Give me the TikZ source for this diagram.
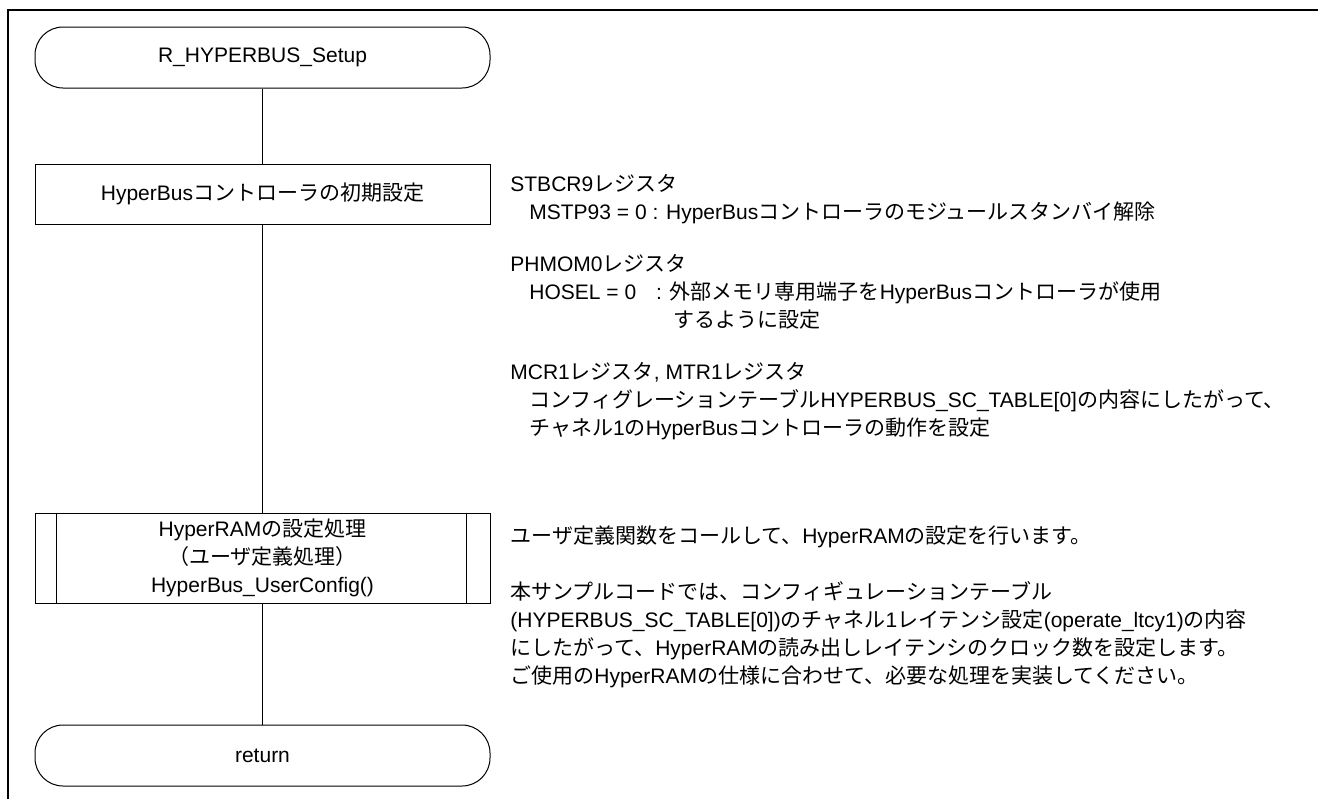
\documentclass[tikz,border=0pt]{standalone}
\usepackage{fontspec}
\setmainfont{Liberation Sans}
\newfontfamily\jpfont{Noto Sans CJK JP}
% switch to the Japanese font for kana, kanji and full-width forms
\XeTeXinterchartokenstate=1
\newXeTeXintercharclass\jpclass
\newcount\jpcode
\jpcode="3000 \loop \XeTeXcharclass\jpcode=\jpclass \ifnum\jpcode<"30FF \advance\jpcode by 1 \repeat
\jpcode="4E00 \loop \XeTeXcharclass\jpcode=\jpclass \ifnum\jpcode<"9FFF \advance\jpcode by 1 \repeat
\jpcode="FF00 \loop \XeTeXcharclass\jpcode=\jpclass \ifnum\jpcode<"FFEF \advance\jpcode by 1 \repeat
\XeTeXinterchartoks 0 \jpclass = {\jpfont}
\XeTeXinterchartoks 4095 \jpclass = {\jpfont}
\XeTeXinterchartoks \jpclass 0 = {\rmfamily}
\XeTeXinterchartoks \jpclass 4095 = {\rmfamily}
\usetikzlibrary{positioning}

\begin{document}
\begin{tikzpicture}[x=0.5pt, y=-0.5pt,
					termnode/.style={rectangle,
					rounded corners=14pt,
					draw=black,
					line width=0.5pt,
					minimum width=227.5pt,
					minimum height=30.5pt,
					inner sep=0pt},
					procnode/.style={rectangle,
					draw=black,
					line width=0.5pt,
					minimum width=227.5pt,
					minimum height=30pt,
					inner sep=0pt,
					align=center},
					subnode/.style={procnode,
					minimum height=45pt},
					notetext/.style={anchor=north west,
					inner sep=0pt,
					align=left},
					font=\fontsize{10.5pt}{14pt}\selectfont
					]

\useasboundingbox (0,0) rectangle (1318,799);

% frame
\draw[line width=1.2pt] (8,799) -- (8,10) -- (1318,10);

% flow
\node[termnode]  (Start) at (262.5,57.5) {R\_HYPERBUS\_Setup};
\node[procnode]  (Init) [below=37.5pt of Start] {HyperBusコントローラの初期設定};
\node[subnode]  (UserCfg) [below=144pt of Init] {HyperRAMの設定処理\\（ユーザ定義処理）\\HyperBus\_UserConfig()};
\node[termnode]  (Return) [below=60.5pt of UserCfg] {return};

% side bars of the subroutine box
\draw[line width=0.5pt] ([xshift=11pt]UserCfg.north west) -- ([xshift=11pt]UserCfg.south west);
\draw[line width=0.5pt] ([xshift=-12pt]UserCfg.north east) -- ([xshift=-12pt]UserCfg.south east);

% lines
\draw[line width=0.5pt] (Start) -- (Init);
\draw[line width=0.5pt] (Init) -- (UserCfg);
\draw[line width=0.5pt] (UserCfg) -- (Return);

% notes
\node[notetext]  (StbcrNote) at (510,171) {\strut STBCR9レジスタ\\\hspace*{9.5pt}MSTP93 = 0 : HyperBusコントローラのモジュールスタンバイ解除};
\node[notetext]  (PhmomNote) at (510,251) {\strut PHMOM0レジスタ\\\hspace*{9.5pt}HOSEL = 0\hspace{10pt}: 外部メモリ専用端子をHyperBusコントローラが使用\\\hspace*{81.5pt}するように設定};
\node[notetext]  (McrNote) at (510,359) {\strut MCR1レジスタ, MTR1レジスタ\\\hspace*{9.5pt}コンフィグレーションテーブルHYPERBUS\_SC\_TABLE[0]の内容にしたがって、\\\hspace*{9.5pt}チャネル1のHyperBusコントローラの動作を設定};
\node[notetext]  (CallNote) at (510,523) {\strut ユーザ定義関数をコールして、HyperRAMの設定を行います。};
\node[notetext]  (SampleNote) at (510,579) {\strut 本サンプルコードでは、コンフィギュレーションテーブル\\(HYPERBUS\_SC\_TABLE[0])のチャネル1レイテンシ設定(operate\_ltcy1)の内容\\にしたがって、HyperRAMの読み出しレイテンシのクロック数を設定します。\\ご使用のHyperRAMの仕様に合わせて、必要な処理を実装してください。};

\end{tikzpicture}
\end{document}
